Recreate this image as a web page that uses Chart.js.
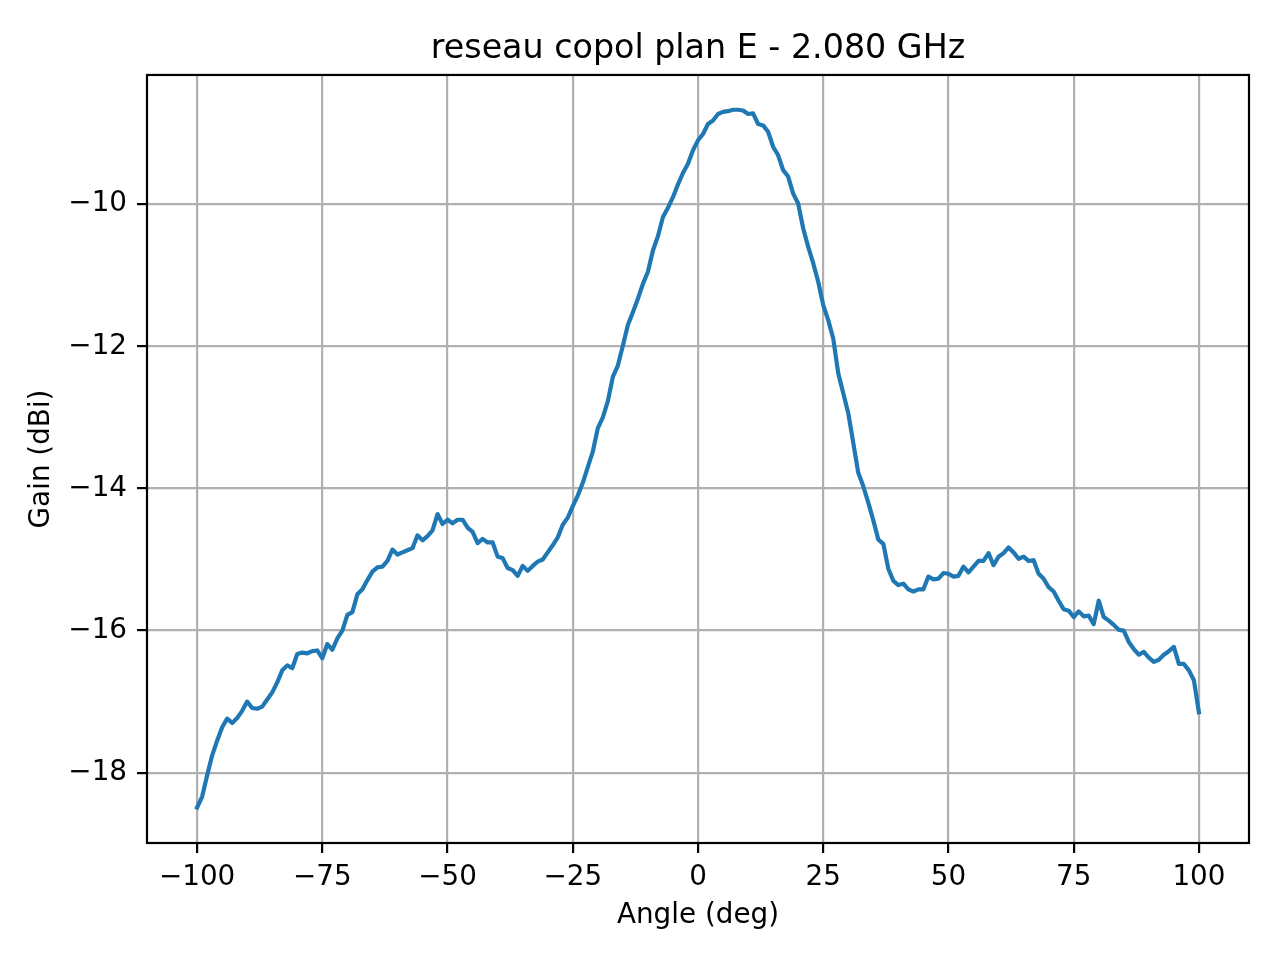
<!DOCTYPE html>
<html>
<head>
<meta charset="utf-8">
<title>reseau copol plan E - 2.080 GHz</title>
<script src="https://cdn.jsdelivr.net/npm/chart.js@4.4.1/dist/chart.umd.min.js"></script>
<style>
  html, body { margin: 0; padding: 0; background: #ffffff; }
  #wrap { width: 1280px; height: 960px; }
</style>
</head>
<body>
<div id="wrap"><canvas id="c" width="1280" height="960"></canvas></div>
<script>
// ---- data ----
const chartTitle = "reseau copol plan E - 2.080 GHz";
const xLabel = "Angle (deg)";
const yLabel = "Gain (dBi)";

const angles = [
  -100, -99, -98, -97, -96, -95, -94, -93, -92, -91,
  -90, -89, -88, -87, -86, -85, -84, -83, -82, -81,
  -80, -79, -78, -77, -76, -75, -74, -73, -72, -71,
  -70, -69, -68, -67, -66, -65, -64, -63, -62, -61,
  -60, -59, -58, -57, -56, -55, -54, -53, -52, -51,
  -50, -49, -48, -47, -46, -45, -44, -43, -42, -41,
  -40, -39, -38, -37, -36, -35, -34, -33, -32, -31,
  -30, -29, -28, -27, -26, -25, -24, -23, -22, -21,
  -20, -19, -18, -17, -16, -15, -14, -13, -12, -11,
  -10, -9, -8, -7, -6, -5, -4, -3, -2, -1,
  0, 1, 2, 3, 4, 5, 6, 7, 8, 9,
  10, 11, 12, 13, 14, 15, 16, 17, 18, 19,
  20, 21, 22, 23, 24, 25, 26, 27, 28, 29,
  30, 31, 32, 33, 34, 35, 36, 37, 38, 39,
  40, 41, 42, 43, 44, 45, 46, 47, 48, 49,
  50, 51, 52, 53, 54, 55, 56, 57, 58, 59,
  60, 61, 62, 63, 64, 65, 66, 67, 68, 69,
  70, 71, 72, 73, 74, 75, 76, 77, 78, 79,
  80, 81, 82, 83, 84, 85, 86, 87, 88, 89,
  90, 91, 92, 93, 94, 95, 96, 97, 98, 99,
  100
];

const gain = [
  -18.49, -18.34, -18.04, -17.76, -17.55, -17.36, -17.24, -17.30, -17.23, -17.13,
  -17.00, -17.09, -17.10, -17.07, -16.97, -16.87, -16.73, -16.56, -16.49, -16.53,
  -16.33, -16.31, -16.32, -16.29, -16.28, -16.39, -16.19, -16.27, -16.11, -16.00,
  -15.78, -15.74, -15.49, -15.42, -15.29, -15.17, -15.11, -15.10, -15.02, -14.86,
  -14.93, -14.90, -14.87, -14.84, -14.66, -14.73, -14.67, -14.59, -14.36, -14.50,
  -14.44, -14.49, -14.44, -14.44, -14.55, -14.61, -14.77, -14.71, -14.76, -14.76,
  -14.96, -14.98, -15.12, -15.15, -15.23, -15.09, -15.16, -15.09, -15.03, -15.00,
  -14.90, -14.80, -14.69, -14.51, -14.41, -14.25, -14.10, -13.92, -13.70, -13.48,
  -13.15, -13.00, -12.77, -12.43, -12.27, -11.99, -11.70, -11.52, -11.33, -11.12,
  -10.95, -10.65, -10.45, -10.18, -10.05, -9.90, -9.72, -9.56, -9.43, -9.24,
  -9.10, -9.01, -8.87, -8.82, -8.73, -8.70, -8.69, -8.67, -8.67, -8.68,
  -8.73, -8.72, -8.87, -8.89, -8.98, -9.19, -9.31, -9.52, -9.61, -9.85,
  -9.99, -10.34, -10.60, -10.83, -11.09, -11.42, -11.63, -11.89, -12.38, -12.66,
  -12.94, -13.36, -13.78, -13.97, -14.20, -14.45, -14.72, -14.78, -15.13, -15.30,
  -15.36, -15.34, -15.42, -15.45, -15.42, -15.42, -15.24, -15.28, -15.27, -15.19,
  -15.20, -15.24, -15.23, -15.10, -15.18, -15.10, -15.02, -15.02, -14.91, -15.08,
  -14.96, -14.91, -14.83, -14.90, -14.99, -14.96, -15.02, -15.01, -15.20, -15.27,
  -15.39, -15.45, -15.58, -15.70, -15.72, -15.81, -15.73, -15.80, -15.79, -15.91,
  -15.58, -15.81, -15.86, -15.92, -15.99, -16.00, -16.16, -16.26, -16.34, -16.30,
  -16.38, -16.44, -16.41, -16.34, -16.29, -16.23, -16.47, -16.47, -16.56, -16.70,
  -17.15
];

const xTicks = [-100, -75, -50, -25, 0, 25, 50, 75, 100];
const yTicks = [-18, -16, -14, -12, -10];
const xRange = [-110, 110];
const yRange = [-18.99, -8.18];

// ---- styling ----
const FONT = "'DejaVu Sans', 'Liberation Sans', sans-serif";
const TICK_PX = 27.8;
const TITLE_PX = 33.3;
const LW = 2.2;

Chart.defaults.color = '#000000';
Chart.defaults.font.family = FONT;

const fmt = v => String(v).replace('-', '\u2212');

const frame = {
  id: 'frame',
  afterDraw(chart) {
    const a = chart.chartArea;
    const ctx = chart.ctx;
    ctx.save();
    ctx.strokeStyle = '#000000';
    ctx.lineWidth = LW;
    ctx.lineJoin = 'miter';
    ctx.strokeRect(a.left, a.top, a.right - a.left, a.bottom - a.top);
    ctx.restore();
  }
};

new Chart(document.getElementById('c'), {
  type: 'line',
  data: {
    datasets: [{
      data: angles.map((a, i) => ({ x: a, y: gain[i] })),
      borderColor: '#1f77b4',
      borderWidth: 4.2,
      pointRadius: 0,
      tension: 0,
      fill: false,
      borderJoinStyle: 'round',
      borderCapStyle: 'square'
    }]
  },
  options: {
    responsive: false,
    devicePixelRatio: 1,
    animation: false,
    layout: { padding: { left: 0, right: 31, top: 0, bottom: 0 } },
    plugins: {
      legend: { display: false },
      tooltip: { enabled: false },
      title: {
        display: true,
        fullSize: false,
        text: chartTitle,
        color: '#000000',
        font: { family: FONT, size: TITLE_PX, weight: 'normal', lineHeight: 1.2 },
        padding: { top: 29, bottom: 6 }
      }
    },
    scales: {
      x: {
        type: 'linear',
        min: xRange[0],
        max: xRange[1],
        afterBuildTicks: s => { s.ticks = xTicks.map(v => ({ value: v })); },
        afterFit: s => { s.height = 117; },
        ticks: {
          autoSkip: false,
          maxRotation: 0,
          padding: 8,
          color: '#000000',
          font: { family: FONT, size: TICK_PX, lineHeight: 1.2 },
          callback: v => fmt(v)
        },
        grid: {
          color: '#b0b0b0',
          lineWidth: LW,
          drawTicks: true,
          tickLength: 10,
          tickColor: '#000000',
          tickWidth: LW
        },
        border: { display: false },
        title: {
          display: true,
          text: xLabel,
          color: '#000000',
          font: { family: FONT, size: TICK_PX, lineHeight: 1.2 },
          padding: { top: 0, bottom: 28 }
        }
      },
      y: {
        type: 'linear',
        min: yRange[0],
        max: yRange[1],
        afterBuildTicks: s => { s.ticks = yTicks.map(v => ({ value: v })); },
        afterFit: s => { s.width = 147; },
        ticks: {
          autoSkip: false,
          padding: 10,
          color: '#000000',
          font: { family: FONT, size: TICK_PX, lineHeight: 1.2 },
          callback: v => fmt(v)
        },
        grid: {
          color: '#b0b0b0',
          lineWidth: LW,
          drawTicks: true,
          tickLength: 10,
          tickColor: '#000000',
          tickWidth: LW
        },
        border: { display: false },
        title: {
          display: true,
          text: yLabel,
          color: '#000000',
          font: { family: FONT, size: TICK_PX, lineHeight: 1.2 },
          padding: { top: 25, bottom: 0 }
        }
      }
    }
  },
  plugins: [frame]
});
</script>
</body>
</html>
